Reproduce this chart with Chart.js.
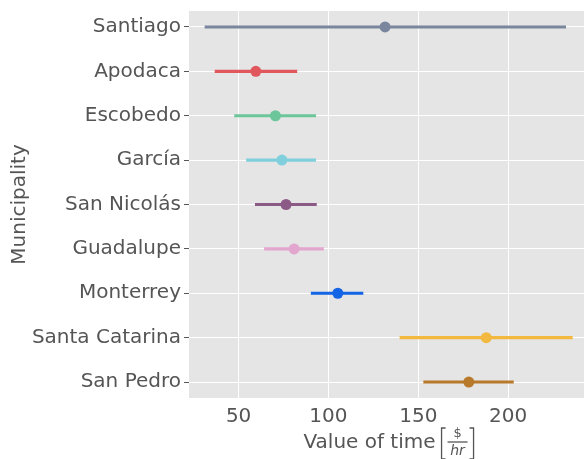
<!DOCTYPE html>
<html>
<head>
<meta charset="utf-8">
<script src="https://cdn.jsdelivr.net/npm/chart.js@4/dist/chart.umd.min.js"></script>
<style>
  html, body { margin: 0; padding: 0; background: #fff; }
  canvas { display: block; }
</style>
</head>
<body>
<canvas id="c" width="584" height="459"></canvas>
<script>
// Value of time by municipality: point estimate with its interval
const municipalities = ['Santiago', 'Apodaca', 'Escobedo', 'García', 'San Nicolás', 'Guadalupe', 'Monterrey', 'Santa Catarina', 'San Pedro'];
const meanValue  = [131.5, 59.6, 70.5, 74.1, 76.4, 80.9, 105.2, 187.8, 178.1];
const lowerBound = [31.1, 36.7, 47.6, 54.2, 59.1, 64.2, 90.2, 139.6, 152.8];
const upperBound = [232.2, 82.6, 93.1, 93.1, 93.5, 97.4, 119.4, 235.9, 203.1];
const xTicks = [50, 100, 150, 200];

const colors = ['#7a869e', '#e0585e', '#6cc69a', '#7fd0dc', '#8c5a86', '#e2a6cf', '#1464e6', '#f2b840', '#b8792a'];
const textColor = '#555555';
const fontFamily = '"DejaVu Sans", sans-serif';

const datasets = municipalities.map((name, i) => ({
  label: name,
  data: [
    { x: lowerBound[i], y: i },
    { x: meanValue[i], y: i },
    { x: upperBound[i], y: i }
  ],
  showLine: true,
  borderColor: colors[i],
  borderWidth: 3.2,
  borderCapStyle: 'butt',
  pointRadius: ctx => (ctx.dataIndex === 1 ? 5.5 : 0),
  pointBackgroundColor: colors[i],
  pointBorderWidth: 0,
  clip: false
}));

// grey panel behind the plot
const panelBackground = {
  id: 'panelBackground',
  beforeDraw(chart) {
    const { ctx, chartArea: a } = chart;
    ctx.save();
    ctx.fillStyle = '#e5e5e5';
    ctx.fillRect(a.left, a.top, a.right - a.left, a.bottom - a.top);
    ctx.restore();
  }
};

// x-axis title with a bracketed $/hr unit
const xTitle = {
  id: 'xTitle',
  afterDraw(chart) {
    const { ctx } = chart;
    ctx.save();
    ctx.fillStyle = textColor;
    ctx.strokeStyle = textColor;
    ctx.textBaseline = 'middle';
    ctx.font = '20px ' + fontFamily;
    const main = 'Value of time';
    const w = ctx.measureText(main).width;
    const unitW = 32;
    const gap = 6;
    const total = w + gap + unitW;
    const cx = (chart.chartArea.left + chart.chartArea.right) / 2 + 2;
    let x = cx - total / 2;
    const y = 443;
    ctx.textAlign = 'left';
    ctx.fillText(main, x, y);
    x += w + gap;
    // brackets
    const bTop = 428, bBot = 459;
    ctx.lineWidth = 1.3;
    ctx.beginPath();
    ctx.moveTo(x + 4, bTop); ctx.lineTo(x, bTop); ctx.lineTo(x, bBot); ctx.lineTo(x + 4, bBot);
    const rx = x + unitW;
    ctx.moveTo(rx - 4, bTop); ctx.lineTo(rx, bTop); ctx.lineTo(rx, bBot); ctx.lineTo(rx - 4, bBot);
    ctx.stroke();
    // fraction
    const fx = x + unitW / 2;
    ctx.beginPath();
    ctx.moveTo(x + 6, 442); ctx.lineTo(rx - 6, 442);
    ctx.stroke();
    ctx.textAlign = 'center';
    ctx.font = '13px ' + fontFamily;
    ctx.fillText('$', fx, 434);
    ctx.font = 'italic 14px ' + fontFamily;
    ctx.fillText('hr', fx, 451);
    ctx.restore();
  }
};

new Chart(document.getElementById('c'), {
  type: 'scatter',
  data: { datasets },
  options: {
    responsive: false,
    animation: false,
    events: [],
    layout: { padding: { top: 0, right: 0, left: 0, bottom: 0 } },
    plugins: { legend: { display: false }, tooltip: { enabled: false } },
    scales: {
      x: {
        type: 'linear',
        min: 22.4,
        max: 242.2,
        afterBuildTicks: s => { s.ticks = xTicks.map(v => ({ value: v })); },
        afterFit: s => { s.height = 61; },
        grid: { color: '#ffffff', lineWidth: 1, drawTicks: false },
        border: { display: false },
        ticks: { padding: 7, color: textColor, font: { size: 20, family: fontFamily } },
        title: { display: false }
      },
      y: {
        type: 'linear',
        reverse: true,
        min: -0.36,
        max: 8.36,
        afterBuildTicks: s => { s.ticks = municipalities.map((_, i) => ({ value: i })); },
        afterFit: s => { s.width = 189; },
        grid: { color: '#ffffff', lineWidth: 1, drawTicks: true, tickLength: 5, tickColor: textColor },
        border: { display: false },
        ticks: {
          padding: 3,
          color: textColor,
          font: { size: 20, family: fontFamily, lineHeight: 0.8 },
          callback: v => municipalities[v]
        },
        title: {
          display: true,
          text: 'Municipality',
          color: textColor,
          font: { size: 20, family: fontFamily },
          padding: { top: 8, bottom: 0 }
        }
      }
    }
  },
  plugins: [panelBackground, xTitle]
});
</script>
</body>
</html>
